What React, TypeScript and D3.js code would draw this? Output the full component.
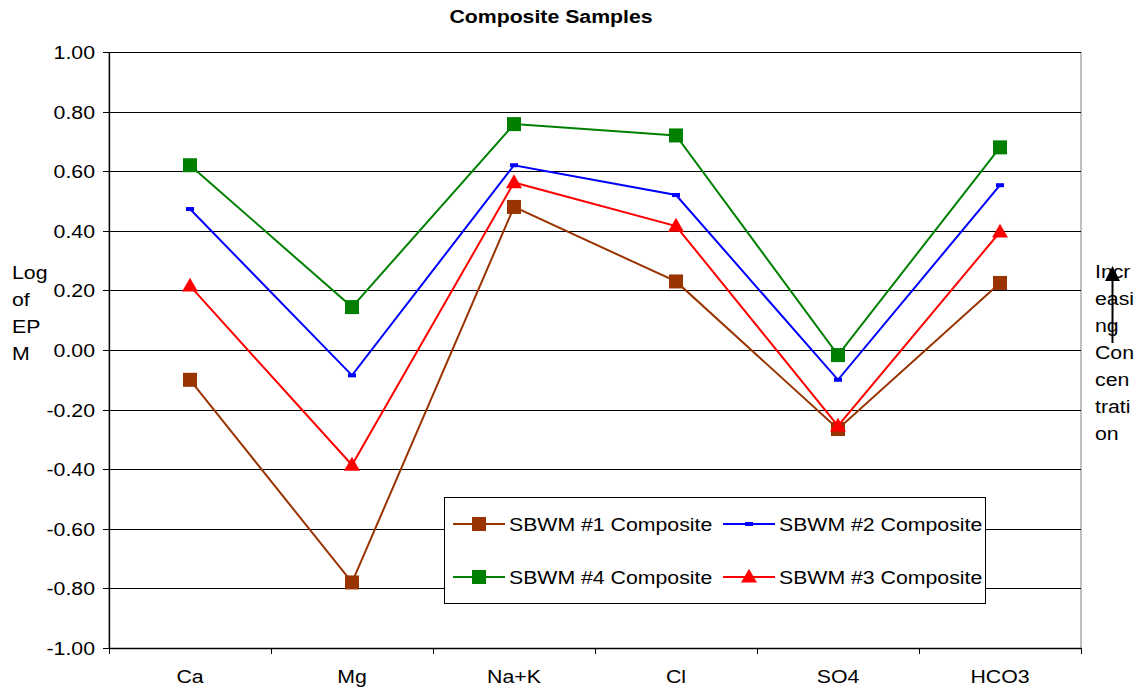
import React from "react";
import * as d3 from "d3";

const categories = ["Ca", "Mg", "Na+K", "Cl", "SO4", "HCO3"];
const sbwm1 = [-0.1, -0.78, 0.48, 0.23, -0.265, 0.225];
const sbwm2 = [0.473, -0.085, 0.62, 0.52, -0.1, 0.553];
const sbwm4 = [0.62, 0.144, 0.758, 0.72, -0.017, 0.68];
const sbwm3 = [0.215, -0.386, 0.562, 0.416, -0.255, 0.396];
const yTicks = [1, 0.8, 0.6, 0.4, 0.2, 0, -0.2, -0.4, -0.6, -0.8, -1];

const series = [
  { name: "SBWM #1 Composite", values: sbwm1, color: "#993300", marker: "square" },
  { name: "SBWM #2 Composite", values: sbwm2, color: "#0000FF", marker: "dash" },
  { name: "SBWM #4 Composite", values: sbwm4, color: "#008000", marker: "square" },
  { name: "SBWM #3 Composite", values: sbwm3, color: "#FF0000", marker: "triangle" },
];

const W = 1143, H = 689;
const L = 109, R = 1081, T = 52, B = 648;
const font = "Arial, 'Liberation Sans', sans-serif";
const FS = 18.5;
const SX = 1.15;

function Txt({ x, y, anchor = "start", bold = false, children }: any) {
  return (
    <text
      transform={`translate(${x},${y}) scale(${SX},1)`}
      textAnchor={anchor}
      fontSize={FS}
      fontWeight={bold ? "bold" : "normal"}
      fill="#000"
    >
      {children}
    </text>
  );
}

function Marker({ type, x, y, color }: { type: string; x: number; y: number; color: string }) {
  if (type === "square") return <rect x={x - 7} y={y - 7} width={14} height={14} fill={color} />;
  if (type === "triangle")
    return <path d={d3.symbol(d3.symbolTriangle, 110)() as string} transform={`translate(${x},${y + 1})`} fill={color} />;
  return <rect x={x - 4} y={y - 2} width={8} height={4} fill={color} />;
}

export default function App() {
  const x = d3.scaleBand<string>().domain(categories).range([L, R]);
  const y = d3.scaleLinear().domain([-1, 1]).range([B, T]);
  const cx = (c: string) => (x(c) as number) + x.bandwidth() / 2;
  const line = d3
    .line<number>()
    .x((_, i) => cx(categories[i]))
    .y((d) => y(d));

  const legendItems = [
    { s: series[0], lx: 453, ly: 524 },
    { s: series[1], lx: 723, ly: 524 },
    { s: series[2], lx: 453, ly: 577 },
    { s: series[3], lx: 723, ly: 577 },
  ];

  const rightText = ["Incr", "easi", "ng", "Con", "cen", "trati", "on"];
  const leftText = ["Log", "of", "EP", "M"];
  const bounds = categories.map((c) => x(c) as number).concat([R]);

  return (
    <svg width={W} height={H} style={{ position: "absolute", left: 0, top: 0 }} fontFamily={font}>
      <rect x={0} y={0} width={W} height={H} fill="#fff" />
      <Txt x={551} y={23} anchor="middle" bold>
        Composite Samples
      </Txt>
      {/* plot border */}
      <rect x={L} y={T + 0.5} width={R - L} height={B - T} fill="none" stroke="#808080" strokeWidth={1} />
      {/* grid lines */}
      {yTicks.map((t) => (
        <line key={t} x1={L} x2={R} y1={Math.round(y(t)) + 0.5} y2={Math.round(y(t)) + 0.5} stroke="#000" strokeWidth={1} />
      ))}
      {/* y axis */}
      <line x1={L + 0.5} x2={L + 0.5} y1={T} y2={B} stroke="#000" strokeWidth={1.3} />
      {yTicks.map((t) => (
        <g key={"yt" + t}>
          <line x1={L - 6} x2={L} y1={Math.round(y(t)) + 0.5} y2={Math.round(y(t)) + 0.5} stroke="#000" />
          <Txt x={95} y={y(t) + 7} anchor="end">
            {t.toFixed(2)}
          </Txt>
        </g>
      ))}
      {/* x axis */}
      <line x1={L} x2={R} y1={B + 0.5} y2={B + 0.5} stroke="#000" strokeWidth={1.3} />
      {bounds.map((b, i) => (
        <line key={"xt" + i} x1={Math.round(b) + 0.5} x2={Math.round(b) + 0.5} y1={B} y2={B + 6} stroke="#000" />
      ))}
      {categories.map((c) => (
        <Txt key={c} x={cx(c)} y={683} anchor="middle">
          {c}
        </Txt>
      ))}
      {/* series */}
      {series.map((s) => (
        <g key={s.name}>
          <path d={line(s.values) as string} fill="none" stroke={s.color} strokeWidth={2} />
          {s.values.map((v, i) => (
            <Marker key={i} type={s.marker} x={cx(categories[i])} y={y(v)} color={s.color} />
          ))}
        </g>
      ))}
      {/* left label */}
      {leftText.map((t, i) => (
        <Txt key={t} x={12} y={279 + i * 27}>
          {t}
        </Txt>
      ))}
      {/* right label */}
      {rightText.map((t, i) => (
        <Txt key={t + i} x={1095} y={278 + i * 27}>
          {t}
        </Txt>
      ))}
      <line x1={1112.5} x2={1112.5} y1={343} y2={276} stroke="#000" strokeWidth={2} />
      <path d="M1112.5,266 L1105,281 L1120,281 Z" fill="#000" />
      {/* legend */}
      <rect x={444.5} y={497.5} width={541} height={106} fill="#fff" stroke="#000" strokeWidth={1} />
      {legendItems.map(({ s, lx, ly }) => (
        <g key={s.name}>
          <line x1={lx} x2={lx + 52} y1={ly} y2={ly} stroke={s.color} strokeWidth={2} />
          <Marker type={s.marker} x={lx + 26} y={ly} color={s.color} />
          <Txt x={lx + 56} y={ly + 7}>
            {s.name}
          </Txt>
        </g>
      ))}
    </svg>
  );
}
